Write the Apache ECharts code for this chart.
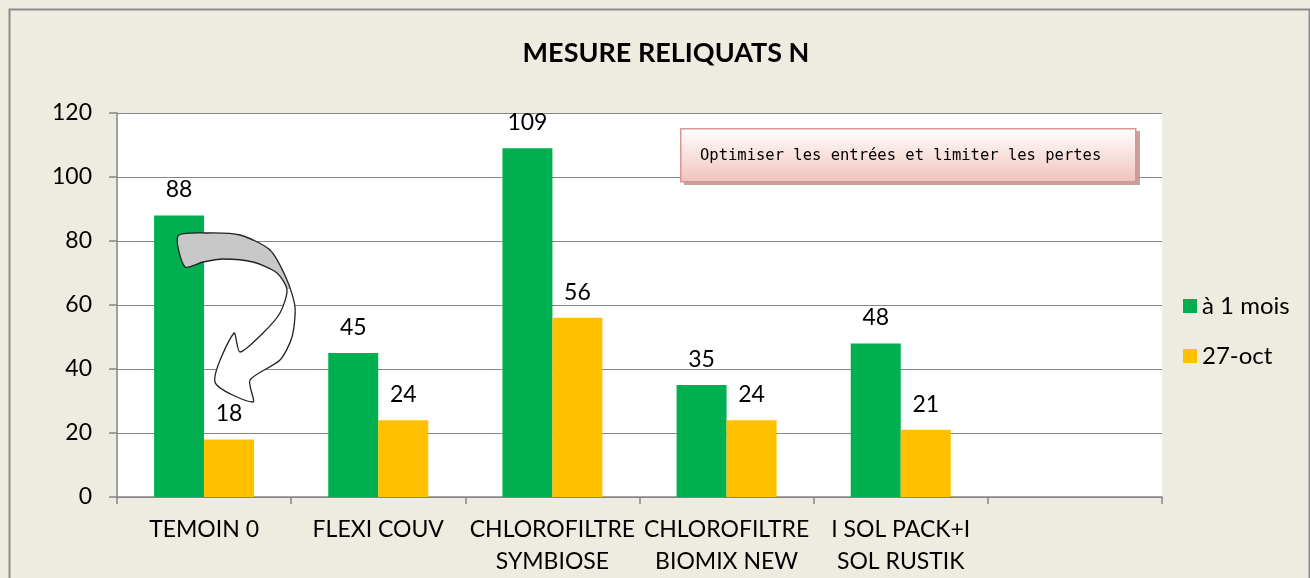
<!DOCTYPE html>
<html><head><meta charset="utf-8">
<script src="https://cdn.jsdelivr.net/npm/echarts@6/dist/echarts.min.js"></script>
<style>html,body{margin:0;padding:0;background:#EEEBE0;}#c{width:1310px;height:578px;}</style>
</head><body><div id="c"></div>
<script>
const categories = ['TEMOIN 0', 'FLEXI COUV', 'CHLOROFILTRE\nSYMBIOSE', 'CHLOROFILTRE\nBIOMIX NEW', 'I SOL PACK+I\nSOL RUSTIK', ''];
const seriesNames = ['à 1 mois', '27-oct'];
const valuesMois = [88, 45, 109, 35, 48, null];
const valuesOct = [18, 24, 56, 24, 21, null];
const yTicks = [0, 20, 40, 60, 80, 100, 120];
const titleText = 'MESURE RELIQUATS N';
const noteText = 'Optimiser les entrées et limiter les pertes';

const FONT = 'Lato, "Open Sans", sans-serif';
const chart = echarts.init(document.getElementById('c'));
const lbl = {show: true, position: 'top', distance: 14, color: '#000', fontSize: 23, fontFamily: FONT};
chart.setOption({
  backgroundColor: '#EEEBE0',
  animation: false,
  title: {text: titleText, left: 661, top: 35, textAlign: 'center',
    textStyle: {fontSize: 27, fontWeight: 'bold', color: '#000', fontFamily: FONT}},
  grid: {left: 117, right: 148, top: 113, bottom: 80, containLabel: false,
    show: true, backgroundColor: '#fff', borderWidth: 0},
  legend: {orient: 'vertical', left: 1178, top: 289, itemWidth: 14, itemHeight: 14, itemGap: 26,
    textStyle: {fontSize: 24, color: '#000', fontFamily: FONT}, icon: 'rect', data: seriesNames},
  xAxis: {type: 'category', data: categories,
    axisLine: {lineStyle: {color: '#868686', width: 1.5}},
    axisTick: {show: true, length: 7, alignWithLabel: false, lineStyle: {color: '#868686', width: 1.5}},
    axisLabel: {interval: 0, fontSize: 23, color: '#000', fontFamily: FONT, lineHeight: 32, margin: 17}},
  yAxis: {type: 'value', min: yTicks[0], max: yTicks[yTicks.length - 1], interval: 20,
    axisLine: {show: true, lineStyle: {color: '#868686', width: 1.5}},
    axisTick: {show: true, length: 8, lineStyle: {color: '#868686', width: 1.5}},
    splitLine: {lineStyle: {color: '#868686', width: 1.2}},
    axisLabel: {fontSize: 23, color: '#000', fontFamily: FONT, margin: 25}},
  series: [
    {name: seriesNames[0], type: 'bar', data: valuesMois, barWidth: 50, barGap: '0%',
      itemStyle: {color: '#00B050'}, label: lbl},
    {name: seriesNames[1], type: 'bar', data: valuesOct, barWidth: 50, barGap: '0%',
      itemStyle: {color: '#FFC000'}, label: lbl}
  ],
  graphic: [
    {type: 'rect', left: 7, top: 7, shape: {width: 1300, height: 600}, z: -10,
      style: {fill: 'none', stroke: '#8C8C8C', lineWidth: 2}},
    {type: 'rect', left: 684, top: 131, shape: {width: 456, height: 54}, z: 100,
      style: {fill: '#C09890', opacity: 0.9}},
    {type: 'rect', left: 680, top: 128, shape: {width: 455, height: 53}, z: 101,
      style: {fill: {type: 'linear', x: 0, y: 0, x2: 0, y2: 1,
        colorStops: [{offset: 0, color: '#FFFFFF'}, {offset: 1, color: '#F0C2BC'}]},
        stroke: '#D99694', lineWidth: 1.5}},
    {type: 'text', left: 700, top: 148, z: 102,
      style: {text: noteText, fontSize: 15.5, fill: '#000', fontFamily: '"DejaVu Sans Mono", monospace'}},
    {type: 'polygon', z: 90,
      shape: {smooth: 0.25, points: [
        [178, 236], [207, 233], [240, 235], [270, 250], [287, 280], [295, 307], [292, 337],
        [280, 360], [250, 380], [253, 402], [215, 382], [234, 333], [240, 352], [263, 333],
        [280, 313], [287, 290], [277, 273], [253, 262], [223, 259], [203, 262], [185, 267]]},
      style: {fill: {type: 'linear', x: 0, y: 0, x2: 0, y2: 1,
        colorStops: [{offset: 0, color: '#C8C8C8'}, {offset: 0.33, color: '#C8C8C8'},
                     {offset: 0.33, color: '#FFFFFF'}, {offset: 1, color: '#FFFFFF'}]},
        stroke: '#222', lineWidth: 1.3}}
  ]
});
</script></body></html>
